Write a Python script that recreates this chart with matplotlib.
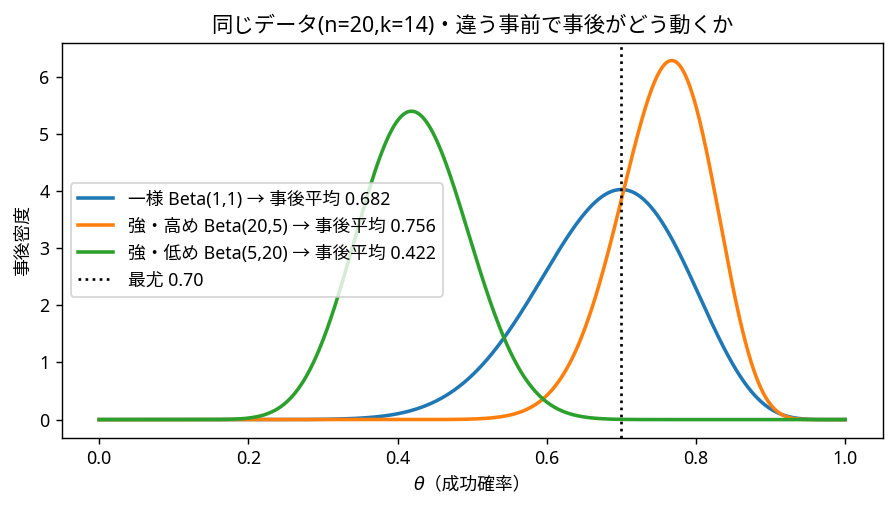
import math
import numpy as np
import matplotlib
matplotlib.use("Agg")
import matplotlib.pyplot as plt

plt.rcParams['font.family'] = ['Noto Sans', 'Noto Sans CJK JP', 'DejaVu Sans']

n = 20
k = 14
prior_labels = ['一様', '強・高め', '強・低め']
prior_a = [1, 20, 5]
prior_b = [1, 5, 20]
mle = 0.70


def beta_pdf(x, a, b):
    out = np.zeros_like(x)
    inner = (x > 0) & (x < 1)
    xi = x[inner]
    lognorm = math.lgamma(a + b) - math.lgamma(a) - math.lgamma(b)
    out[inner] = np.exp(lognorm + (a - 1) * np.log(xi) + (b - 1) * np.log(1 - xi))
    return out


theta = np.linspace(0, 1, 1001)

fig = plt.figure(figsize=(7, 507 / 128), dpi=128)
ax = fig.add_axes([0.069, 0.137, 0.916, 0.779])

for lab, a0, b0 in zip(prior_labels, prior_a, prior_b):
    a = a0 + k
    b = b0 + n - k
    mean = a / (a + b)
    ax.plot(theta, beta_pdf(theta, a, b), lw=2,
            label=f'{lab} Beta({a0},{b0}) → 事後平均 {mean:.3f}')

ax.axvline(mle, color='black', ls=':', lw=1.5, label=f'最尤 {mle:.2f}')

ax.set_title(f'同じデータ(n={n},k={k})・違う事前で事後がどう動くか')
ax.set_xlabel('θ（成功確率）', family=['DejaVu Sans', 'Noto Sans CJK JP'], style='italic')
ax.set_ylabel('事後密度')
ax.legend(loc='center left')

fig.savefig('out.png', dpi=128)
